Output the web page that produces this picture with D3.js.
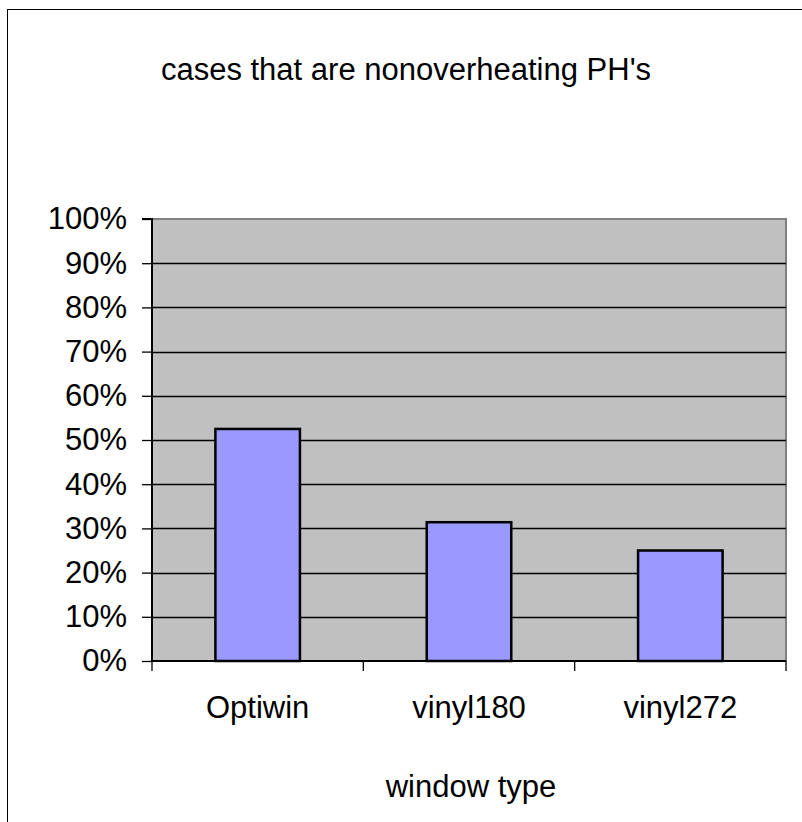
<!DOCTYPE html>
<html>
<head>
<meta charset="utf-8">
<script src="https://cdn.jsdelivr.net/npm/d3@7"></script>
<style>
  html, body { margin: 0; padding: 0; background: #fff; }
  svg { display: block; }
  text { font-family: "Liberation Sans", Arial, sans-serif; fill: #000; }
</style>
</head>
<body>
<script>
const categories = ["Optiwin", "vinyl180", "vinyl272"];
const values = [0.525, 0.314, 0.25];
const yTicks = [0, 0.1, 0.2, 0.3, 0.4, 0.5, 0.6, 0.7, 0.8, 0.9, 1.0];
const title = "cases that are nonoverheating PH's";
const xTitle = "window type";

const W = 802, H = 822;
const plot = { left: 152, right: 786, top: 219, bottom: 661 };
const FS = 31;

const svg = d3.select("body").append("svg").attr("width", W).attr("height", H);

// chart outer border
svg.append("rect").attr("x", 7.5).attr("y", 9.5).attr("width", 820).attr("height", 830)
  .attr("fill", "#fff").attr("stroke", "#000").attr("stroke-width", 1);

const xOuter = d3.scaleBand().domain(categories).range([plot.left, plot.right]);
const y = d3.scaleLinear().domain([0, 1]).range([plot.bottom, plot.top]);

// plot background
svg.append("rect").attr("x", plot.left).attr("y", plot.top)
  .attr("width", plot.right - plot.left).attr("height", plot.bottom - plot.top)
  .attr("fill", "#C0C0C0").attr("stroke", "#808080").attr("stroke-width", 2);

// gridlines
svg.append("g").selectAll("line").data(yTicks.filter(d => d > 0 && d < 1)).join("line")
  .attr("x1", plot.left).attr("x2", plot.right)
  .attr("y1", d => Math.round(y(d)) + 0.5).attr("y2", d => Math.round(y(d)) + 0.5)
  .attr("stroke", "#000").attr("stroke-width", 1.3);

// bars
const barW = xOuter.bandwidth() * 0.4;
svg.append("g").selectAll("rect").data(categories).join("rect")
  .attr("x", d => xOuter(d) + (xOuter.bandwidth() - barW) / 2)
  .attr("width", barW)
  .attr("y", (d, i) => y(values[i]))
  .attr("height", (d, i) => y(0) - y(values[i]))
  .attr("fill", "#9999FF").attr("stroke", "#000").attr("stroke-width", 2.5);

// y axis
const yAxis = d3.axisLeft(y).tickValues(yTicks).tickFormat(d3.format(".0%")).tickSize(10).tickPadding(15);
const gy = svg.append("g").attr("transform", `translate(${plot.left},0)`).call(yAxis);
gy.select(".domain").attr("stroke", "#000").attr("stroke-width", 2).attr("d", `M-10,${plot.top}H0V${plot.bottom}`);
gy.selectAll(".tick line").attr("stroke", "#000").attr("stroke-width", 1.3);
gy.selectAll(".tick text").attr("font-size", FS).attr("font-family", "Liberation Sans, Arial, sans-serif").attr("fill", "#000");

// x axis
const xAxis = d3.axisBottom(xOuter).tickSize(0).tickPadding(0);
const gx = svg.append("g").attr("transform", `translate(0,${plot.bottom})`).call(xAxis);
gx.select(".domain").attr("stroke", "#000").attr("stroke-width", 2).attr("d", `M${plot.left},0H${plot.right}`);
gx.selectAll(".tick text").attr("font-size", FS).attr("font-family", "Liberation Sans, Arial, sans-serif")
  .attr("fill", "#000").attr("dy", "0").attr("y", 57);
// category separator ticks
const seps = categories.map((c) => xOuter(c)).concat([plot.right]);
svg.append("g").selectAll("line").data(seps).join("line")
  .attr("x1", d => d).attr("x2", d => d)
  .attr("y1", plot.bottom).attr("y2", plot.bottom + 10)
  .attr("stroke", "#000").attr("stroke-width", 1.3);

// titles
svg.append("text").attr("x", 406).attr("y", 80).attr("text-anchor", "middle")
  .attr("font-size", FS).text(title);
svg.append("text").attr("x", (plot.left + plot.right) / 2 + 2).attr("y", 797).attr("text-anchor", "middle")
  .attr("font-size", FS).text(xTitle);
</script>
</body>
</html>
